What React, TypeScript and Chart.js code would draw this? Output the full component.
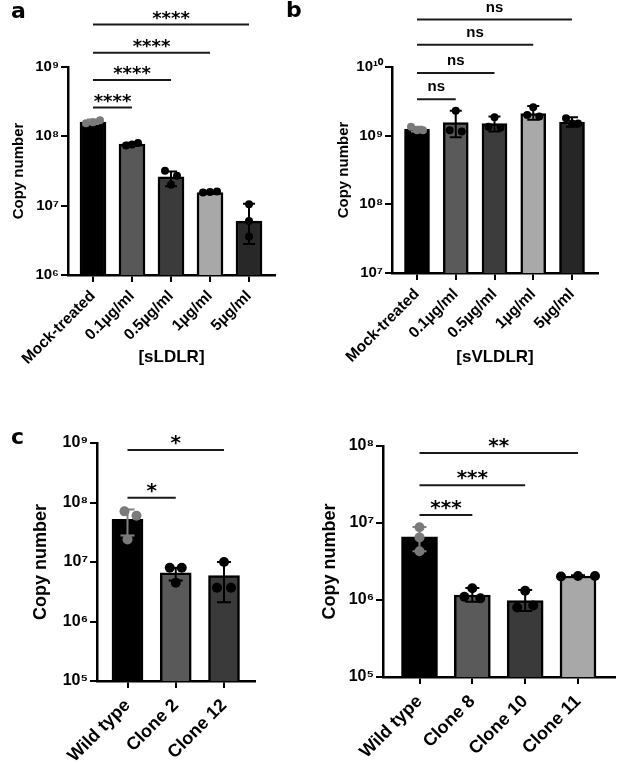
import React, { useEffect, useRef } from 'react';
import { Chart, registerables } from 'chart.js';

Chart.register(...registerables);

// ---------------- DATA ----------------
// Panel a
const aCategories = ['Mock-treated', '0.1µg/ml', '0.5µg/ml', '1µg/ml', '5µg/ml'];
const aMeans = [1.6e8, 7.7e7, 2.6e7, 1.55e7, 6.0e6];
const aErrHigh = [1.75e8, 8.1e7, 3.1e7, 1.62e7, 1.07e7];
const aErrLow = [1.5e8, 7.3e7, 1.9e7, 1.5e7, 2.8e6];
const aReplicates = [
  [1.55e8, 1.7e8, 1.6e8],
  [7.4e7, 8.0e7, 7.6e7],
  [3.2e7, 2.7e7, 2.0e7],
  [1.55e7, 1.6e7, 1.58e7],
  [1.05e7, 6.0e6, 3.6e6],
];
const aTicks = [1e6, 1e7, 1e8, 1e9];
const aBrackets: [number, number, number, string][] = [
  [0, 1, 2.6e8, '****'],
  [0, 2, 6.5e8, '****'],
  [0, 3, 1.6e9, '****'],
  [0, 4, 4.1e9, '****'],
];

// Panel b
const bCategories = ['Mock-treated', '0.1µg/ml', '0.5µg/ml', '1µg/ml', '5µg/ml'];
const bMeans = [1.25e9, 1.55e9, 1.5e9, 2.1e9, 1.58e9];
const bErrHigh = [1.35e9, 2.3e9, 1.9e9, 2.7e9, 1.85e9];
const bErrLow = [1.15e9, 0.95e9, 1.15e9, 1.7e9, 1.35e9];
const bReplicates = [
  [1.35e9, 1.2e9, 1.2e9],
  [2.3e9, 1.2e9, 1.15e9],
  [1.85e9, 1.35e9, 1.3e9],
  [2.6e9, 2.0e9, 1.9e9],
  [1.8e9, 1.5e9, 1.5e9],
];
const bTicks = [1e7, 1e8, 1e9, 1e10];
const bBrackets: [number, number, number, string][] = [
  [0, 1, 3.4e9, 'ns'],
  [0, 2, 8.2e9, 'ns'],
  [0, 3, 2.1e10, 'ns'],
  [0, 4, 4.9e10, 'ns'],
];

// Panel c (left)
const c1Categories = ['Wild type', 'Clone 2', 'Clone 12'];
const c1Means = [5.2e7, 6.6e6, 5.9e6];
const c1ErrHigh = [7.6e7, 8.0e6, 1.0e7];
const c1ErrLow = [2.8e7, 4.9e6, 2.1e6];
const c1Replicates = [
  [7.1e7, 6.0e7, 2.4e7],
  [8.0e6, 8.0e6, 4.5e6],
  [1.0e7, 3.7e6, 3.7e6],
];
const c1Ticks = [1e5, 1e6, 1e7, 1e8, 1e9];
const c1Brackets: [number, number, number, string][] = [
  [0, 1, 1.2e8, '*'],
  [0, 2, 7.6e8, '*'],
];

// Panel c (right)
const c2Categories = ['Wild type', 'Clone 8', 'Clone 10', 'Clone 11'];
const c2Means = [6.6e6, 1.16e6, 0.98e6, 2.05e6];
const c2ErrHigh = [8.9e6, 1.43e6, 1.35e6, 2.1e6];
const c2ErrLow = [4.3e6, 0.95e6, 0.72e6, 2.0e6];
const c2Replicates = [
  [8.8e6, 6.5e6, 4.3e6],
  [1.42e6, 1.1e6, 1.05e6],
  [1.32e6, 0.8e6, 0.85e6],
  [2.02e6, 2.05e6, 2.05e6],
];
const c2Ticks = [1e5, 1e6, 1e7, 1e8];
const c2Brackets: [number, number, number, string][] = [
  [0, 1, 1.27e7, '***'],
  [0, 2, 3.1e7, '***'],
  [0, 3, 8.1e7, '**'],
];

// ---------------- STYLE ----------------
const FONT = "'Liberation Sans', Arial, sans-serif";
const SUP: Record<string, string> = {
  '0': '⁰', '1': '¹', '2': '²', '3': '³', '4': '⁴',
  '5': '⁵', '6': '⁶', '7': '⁷', '8': '⁸', '9': '⁹',
};
const powLabel = (v: number) =>
  '10' + String(Math.round(Math.log10(v))).split('').map((c) => SUP[c]).join('');

type PanelSpec = {
  box: { left: number; top: number; width: number; height: number };
  area: { left: number; right: number; top: number; bottom: number };
  firstCenter: number;
  lastCenter: number;
  categories: string[];
  means: number[];
  errHigh: number[];
  errLow: number[];
  replicates: number[][];
  ticks: number[];
  brackets: [number, number, number, string][];
  colors: string[];
  barThickness: number;
  tickFont: number;
  xFont: number;
  xPad: number;
  yTitleFont: number;
  yTitlePad: number;
  xTitle?: string;
  xTitleFont?: number;
  xTitlePad?: number;
  dotRadius: number;
  jitter: number[][];
  markFont: string;
  markOffset: number;
  capWidth: number;
};

const J = [-6, 6, 0];

function Panel({ spec }: { spec: PanelSpec }) {
  const ref = useRef<HTMLCanvasElement | null>(null);
  useEffect(() => {
    const s = spec;
    const n = s.categories.length;
    const per = (s.lastCenter - s.firstCenter) / (n - 1);
    const aLeft = s.area.left - s.box.left;
    const aRight = s.area.right - s.box.left;
    const aTop = s.area.top - s.box.top;
    const aBottom = s.area.bottom - s.box.top;
    const startVal = -(s.firstCenter - s.area.left) / per;
    const rangeVal = (s.area.right - s.area.left) / per;
    const yWidth = aLeft;
    const xHeight = s.box.height - aBottom;

    const overlay = {
      id: 'overlay',
      afterDatasetsDraw(chart: any) {
        const { ctx } = chart;
        const x = chart.scales.x;
        const y = chart.scales.y;
        ctx.save();
        // error bars
        for (let i = 0; i < n; i++) {
          const cx = x.getPixelForValue(i);
          const col = i === 0 ? '#808080' : '#000';
          const yh = y.getPixelForValue(s.errHigh[i]);
          const yl = y.getPixelForValue(s.errLow[i]);
          ctx.strokeStyle = col;
          ctx.lineWidth = 2;
          ctx.beginPath();
          ctx.moveTo(cx, yh);
          ctx.lineTo(cx, yl);
          ctx.moveTo(cx - s.capWidth / 2, yh);
          ctx.lineTo(cx + s.capWidth / 2, yh);
          ctx.moveTo(cx - s.capWidth / 2, yl);
          ctx.lineTo(cx + s.capWidth / 2, yl);
          ctx.stroke();
        }
        // dots
        for (let i = 0; i < n; i++) {
          const cx = x.getPixelForValue(i);
          const col = i === 0 ? '#7a7a7a' : '#000';
          const jit = s.jitter[i] || J;
          s.replicates[i].forEach((v, k) => {
            ctx.fillStyle = col;
            ctx.beginPath();
            ctx.arc(cx + jit[k], y.getPixelForValue(v), s.dotRadius, 0, Math.PI * 2);
            ctx.fill();
          });
        }
        // brackets
        ctx.strokeStyle = '#1a1a1a';
        ctx.fillStyle = '#000';
        ctx.lineWidth = 2;
        ctx.font = s.markFont;
        ctx.textAlign = 'center';
        ctx.textBaseline = 'alphabetic';
        s.brackets.forEach(([a, b, v, t]) => {
          const x1 = x.getPixelForValue(a);
          const x2 = x.getPixelForValue(b);
          const yy = y.getPixelForValue(v);
          ctx.beginPath();
          ctx.moveTo(x1, yy);
          ctx.lineTo(x2, yy);
          ctx.stroke();
          ctx.fillText(t, (x1 + x2) / 2, yy - s.markOffset);
        });
        ctx.restore();
      },
    };

    const chart = new Chart(ref.current as HTMLCanvasElement, {
      type: 'bar',
      data: {
        labels: s.categories,
        datasets: [
          {
            data: s.means,
            backgroundColor: s.colors,
            borderColor: '#000',
            borderWidth: 2.5,
            barThickness: s.barThickness,
          } as any,
        ],
      },
      options: {
        animation: false,
        responsive: false,
        maintainAspectRatio: false,
        layout: {
          padding: {
            left: 0,
            top: aTop,
            right: s.box.width - aRight,
            bottom: 0,
          },
        },
        plugins: {
          legend: { display: false },
          tooltip: { enabled: false },
        },
        scales: {
          x: {
            type: 'category',
            offset: true,
            afterBuildTicks: (sc: any) => {
              sc._startValue = startVal;
              sc._valueRange = rangeVal;
            },
            afterFit: (sc: any) => {
              sc.height = xHeight;
            },
            ticks: {
              autoSkip: false,
              maxRotation: 45,
              minRotation: 45,
              padding: s.xPad,
              color: '#000',
              font: { family: FONT, size: s.xFont, weight: 'bold' },
            },
            grid: {
              display: true,
              offset: false,
              drawOnChartArea: false,
              drawTicks: true,
              tickLength: 7,
              color: '#000',
              lineWidth: 2,
            },
            border: { display: true, color: '#000', width: 2.5 },
            title: {
              display: !!s.xTitle,
              text: s.xTitle || '',
              color: '#000',
              font: { family: FONT, size: s.xTitleFont || 16, weight: 'bold' },
              padding: { top: 0, bottom: s.xTitlePad || 0 },
            },
          } as any,
          y: {
            type: 'logarithmic',
            min: s.ticks[0],
            max: s.ticks[s.ticks.length - 1],
            afterBuildTicks: (sc: any) => {
              sc.ticks = s.ticks.map((v) => ({ value: v, major: true }));
            },
            afterFit: (sc: any) => {
              sc.width = yWidth;
            },
            ticks: {
              autoSkip: false,
              padding: 2,
              color: '#000',
              font: { family: FONT, size: s.tickFont, weight: 'bold' },
              callback: (v: any) => powLabel(Number(v)),
            },
            grid: {
              display: true,
              drawOnChartArea: false,
              drawTicks: true,
              tickLength: 7,
              color: '#000',
              lineWidth: 2,
            },
            border: { display: true, color: '#000', width: 2.5 },
            title: {
              display: true,
              text: 'Copy number',
              color: '#000',
              font: { family: FONT, size: s.yTitleFont, weight: 'bold' },
              padding: { top: s.yTitlePad, bottom: 0 },
            },
          } as any,
        },
      },
      plugins: [overlay],
    });
    return () => chart.destroy();
  }, [spec]);

  return (
    <canvas
      ref={ref}
      width={spec.box.width}
      height={spec.box.height}
      style={{
        position: 'absolute',
        left: spec.box.left,
        top: spec.box.top,
        width: spec.box.width,
        height: spec.box.height,
      }}
    />
  );
}

const panelA: PanelSpec = {
  box: { left: 0, top: 0, width: 310, height: 380 },
  area: { left: 68, right: 275, top: 67, bottom: 275 },
  firstCenter: 93,
  lastCenter: 249,
  categories: aCategories,
  means: aMeans,
  errHigh: aErrHigh,
  errLow: aErrLow,
  replicates: aReplicates,
  ticks: aTicks,
  brackets: aBrackets,
  colors: ['#000000', '#585858', '#3b3b3b', '#a8a8a8', '#282828'],
  barThickness: 26,
  tickFont: 15,
  xFont: 15.5,
  xPad: 5,
  yTitleFont: 15,
  yTitlePad: 10,
  xTitle: '[sLDLR]',
  xTitleFont: 17,
  xTitlePad: 12,
  dotRadius: 4,
  jitter: [[-7, 7, 0], [-6, 6, 0], [-6, 6, 0], [-7, 7, 0], [0, 0, 0]],
  markFont: `bold 18px 'DejaVu Sans', sans-serif`,
  markOffset: 1,
  capWidth: 12,
};

const panelB: PanelSpec = {
  box: { left: 310, top: 0, width: 315, height: 380 },
  area: { left: 392, right: 598, top: 67, bottom: 273 },
  firstCenter: 417,
  lastCenter: 572,
  categories: bCategories,
  means: bMeans,
  errHigh: bErrHigh,
  errLow: bErrLow,
  replicates: bReplicates,
  ticks: bTicks,
  brackets: bBrackets,
  colors: ['#000000', '#5a5a5a', '#3c3c3c', '#a9a9a9', '#262626'],
  barThickness: 25,
  tickFont: 15,
  xFont: 15.5,
  xPad: 5,
  yTitleFont: 15,
  yTitlePad: 25,
  xTitle: '[sVLDLR]',
  xTitleFont: 17,
  xTitlePad: 12,
  dotRadius: 4,
  jitter: [[-6, 6, 0], [0, -6, 6], [0, -6, 6], [0, -6, 6], [-6, 6, 0]],
  markFont: `bold 15px ${FONT}`,
  markOffset: 8,
  capWidth: 12,
};

const panelC1: PanelSpec = {
  box: { left: 0, top: 400, width: 300, height: 363 },
  area: { left: 97, right: 255, top: 443, bottom: 681 },
  firstCenter: 127.5,
  lastCenter: 224,
  categories: c1Categories,
  means: c1Means,
  errHigh: c1ErrHigh,
  errLow: c1ErrLow,
  replicates: c1Replicates,
  ticks: c1Ticks,
  brackets: c1Brackets,
  colors: ['#000000', '#595959', '#3a3a3a'],
  barThickness: 31,
  tickFont: 16,
  xFont: 18,
  xPad: 7,
  yTitleFont: 18,
  yTitlePad: 30,
  dotRadius: 5,
  jitter: [[-3, 9, 0], [-6, 6, 0], [0, -7, 7]],
  markFont: `bold 20px 'DejaVu Sans', sans-serif`,
  markOffset: 1,
  capWidth: 14,
};

const panelC2: PanelSpec = {
  box: { left: 300, top: 400, width: 325, height: 363 },
  area: { left: 383, right: 615, top: 446, bottom: 677 },
  firstCenter: 419.5,
  lastCenter: 578,
  categories: c2Categories,
  means: c2Means,
  errHigh: c2ErrHigh,
  errLow: c2ErrLow,
  replicates: c2Replicates,
  ticks: c2Ticks,
  brackets: c2Brackets,
  colors: ['#000000', '#5a5a5a', '#3a3a3a', '#a8a8a8'],
  barThickness: 36,
  tickFont: 16,
  xFont: 18,
  xPad: 7,
  yTitleFont: 18,
  yTitlePad: 19,
  dotRadius: 5,
  jitter: [[0, 0, 0], [0, -8, 8], [0, -8, 8], [-17, 0, 17]],
  markFont: `bold 20px 'DejaVu Sans', sans-serif`,
  markOffset: 1,
  capWidth: 14,
};

const letterStyle: React.CSSProperties = {
  position: 'absolute',
  fontFamily: "'DejaVu Sans', sans-serif",
  fontWeight: 'bold',
  fontSize: 22,
  lineHeight: '22px',
  color: '#000',
};

export default function App() {
  return (
    <div
      style={{
        position: 'absolute',
        left: 0,
        top: 0,
        width: 625,
        height: 763,
        background: '#fff',
        overflow: 'hidden',
      }}
    >
      <Panel spec={panelA} />
      <Panel spec={panelB} />
      <Panel spec={panelC1} />
      <Panel spec={panelC2} />
      <div style={{ ...letterStyle, left: 11, top: 0 }}>a</div>
      <div style={{ ...letterStyle, left: 286, top: -1 }}>b</div>
      <div style={{ ...letterStyle, left: 11, top: 426 }}>c</div>
    </div>
  );
}
